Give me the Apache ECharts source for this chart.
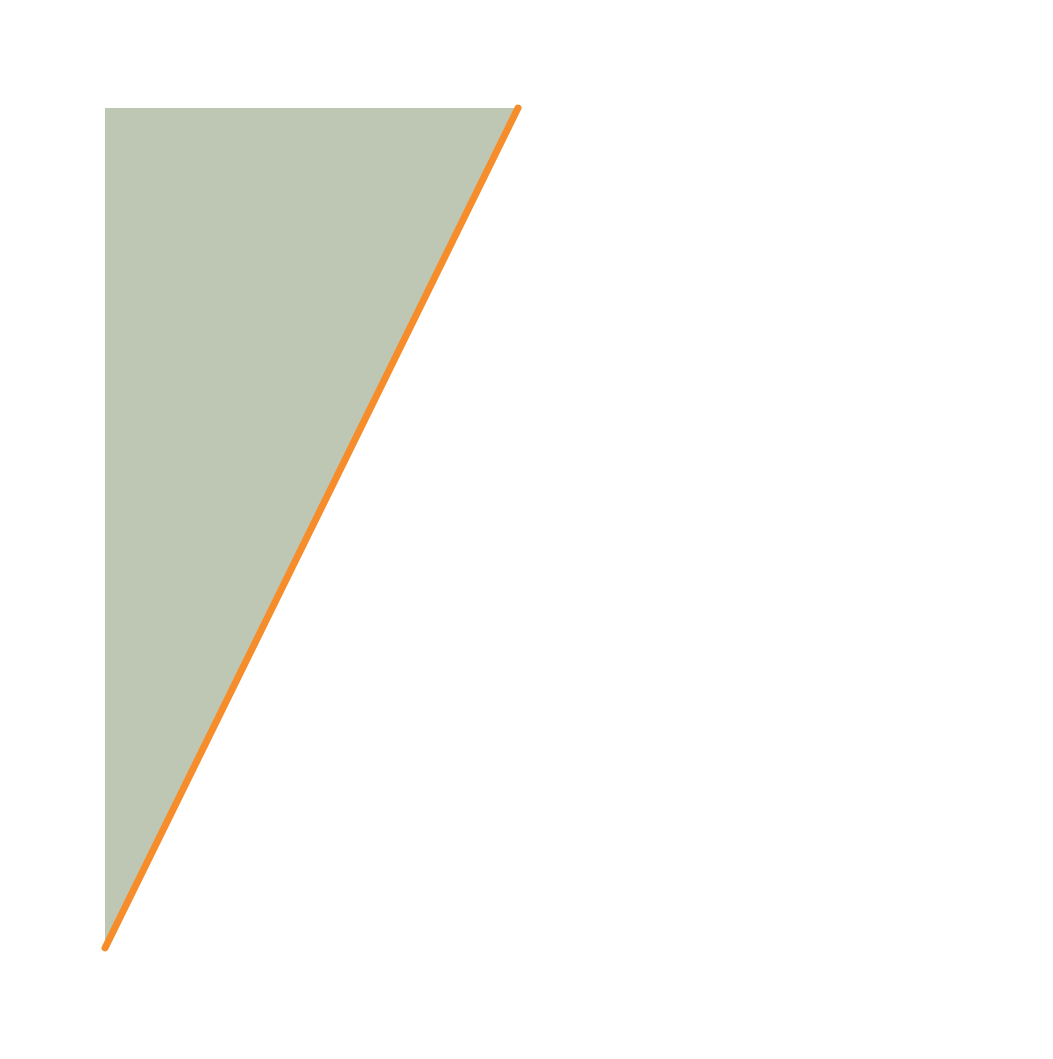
<!DOCTYPE html>
<html>
<head>
<meta charset="utf-8">
<script src="https://cdn.jsdelivr.net/npm/echarts@6/dist/echarts.min.js"></script>
</head>
<body style="margin:0">
<div id="main" style="width:1053px;height:1059px;"></div>
<script>
var xs = [0, 2];
var ys = [0, 4];
var hLevels = [1, 2, 3];
var vLevels = [1];

var chart = echarts.init(document.getElementById('main'));
var series = [];
// grid lines clipped to the filled region (left of the line)
hLevels.forEach(function (y) {
    series.push({ type: 'line', data: [[0, y], [y / 2, y]], symbol: 'none', z: 3,
        lineStyle: { color: '#0f4d0a', width: 7 } });
});
vLevels.forEach(function (x) {
    series.push({ type: 'line', data: [[x, x * 2], [x, 4]], symbol: 'none', z: 3,
        lineStyle: { color: '#0f4d0a', width: 7 } });
});
series.push({
    type: 'line',
    data: xs.map(function (x, i) { return [x, ys[i]]; }),
    symbol: 'none', z: 4,
    lineStyle: { color: '#f78c2a', width: 7, cap: 'round' },
    areaStyle: { origin: 'end', color: '#bec7b3', opacity: 1 }
});
chart.setOption({
    animation: false,
    grid: { left: 105, right: 535, top: 108, bottom: 111 },
    xAxis: { type: 'value', min: 0, max: 2, show: false },
    yAxis: { type: 'value', min: 0, max: 4, show: false },
    series: series
});
</script>
</body>
</html>
